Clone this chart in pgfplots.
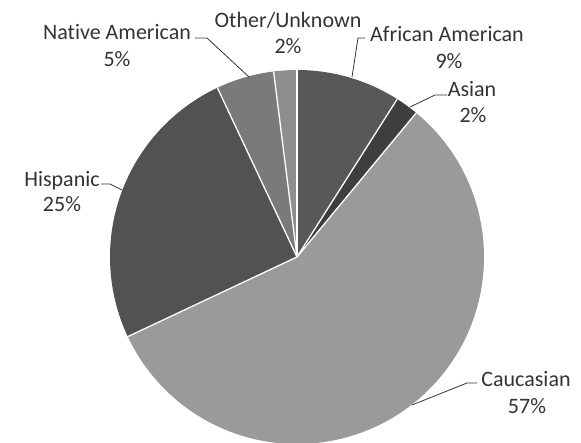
\documentclass[border=0pt]{standalone}
\usepackage{fontspec}
\setmainfont{Carlito}[Ligatures={NoCommon}]
\usepackage{pgfplots}
\pgfplotsset{compat=1.18}
\definecolor{cAA}{HTML}{585858}
\definecolor{cAS}{HTML}{3E3E3E}
\definecolor{cCA}{HTML}{9A9A9A}
\definecolor{cHI}{HTML}{525252}
\definecolor{cNA}{HTML}{7A7A7A}
\definecolor{cOT}{HTML}{8E8E8E}
\definecolor{txt}{HTML}{333333}
\tikzset{lbl/.style={anchor=base, inner sep=0pt, text=txt, font=\fontsize{22}{26}\selectfont}}
% slice: start (%), end (%), colour  -- clockwise from 12 o'clock
\newcommand{\slice}[3]{%
  \fill[#3] (axis cs:297,186) -- ++({90-3.6*#1}:187pt)
    arc[start angle={90-3.6*#1}, end angle={90-3.6*#2}, radius=187pt] -- cycle;}
\newcommand{\sep}[1]{%
  \draw[white, line width=1.3pt] (axis cs:297,186) -- ++({90-3.6*#1}:187pt);}
\begin{document}
\begin{tikzpicture}
\begin{axis}[
  width=581pt, height=443pt, scale only axis,
  xmin=0, xmax=581, ymin=0, ymax=443,
  axis lines=none, clip=true,
]
\path (axis cs:0,0) rectangle (axis cs:581,443);
% values (%): African American 9, Asian 2, Caucasian 57, Hispanic 25, Native American 5, Other/Unknown 2
\slice{0}{9}{cAA}
\slice{9}{11}{cAS}
\slice{11}{68}{cCA}
\slice{68}{93}{cHI}
\slice{93}{98}{cNA}
\slice{98}{100}{cOT}
\sep{0}\sep{9}\sep{11}\sep{68}\sep{93}\sep{98}
% leader lines
\draw[txt, line width=0.8pt] (axis cs:195,405) -- (axis cs:207,405) -- (axis cs:249,366);
\draw[txt, line width=0.8pt] (axis cs:365,405) -- (axis cs:358,405) -- (axis cs:352,366);
\draw[txt, line width=0.8pt] (axis cs:447,348) -- (axis cs:435,348) -- (axis cs:410,336);
\draw[txt, line width=0.8pt] (axis cs:477,60) -- (axis cs:467,60) -- (axis cs:412,38);
\draw[txt, line width=0.8pt] (axis cs:101,259) -- (axis cs:110,259) -- (axis cs:122,253);
% labels
\node[lbl] at (axis cs:117,403) {Native American};
\node[lbl] at (axis cs:117,376) {5\%};
\node[lbl] at (axis cs:288,415) {Other/Unknown};
\node[lbl] at (axis cs:288,389) {2\%};
\node[lbl] at (axis cs:447,401) {African American};
\node[lbl] at (axis cs:449,374) {9\%};
\node[lbl] at (axis cs:472,346) {Asian};
\node[lbl] at (axis cs:473,320) {2\%};
\node[lbl] at (axis cs:62,256) {Hispanic};
\node[lbl] at (axis cs:62,231) {25\%};
\node[lbl] at (axis cs:526,56) {Caucasian};
\node[lbl] at (axis cs:527,29) {57\%};
\end{axis}
\end{tikzpicture}
\end{document}
